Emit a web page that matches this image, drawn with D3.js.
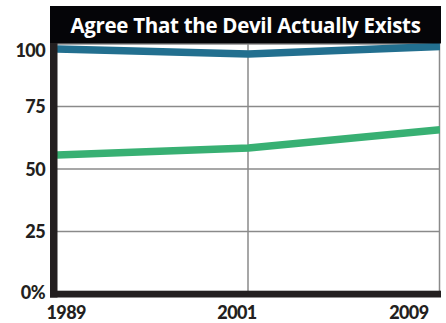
<!DOCTYPE html>
<html>
<head>
<meta charset="utf-8">
<script src="https://cdn.jsdelivr.net/npm/d3@7"></script>
<style>
  html, body { margin: 0; padding: 0; background: #fff; }
  svg { display: block; }
</style>
</head>
<body>
<svg id="chart" width="446" height="323"></svg>
<script>
// Share of respondents who agree that the devil actually exists
const years = ["1989", "2001", "2009"];
const seriesBlue = [98, 96, 99];
const seriesGreen = [55.6, 58.4, 65.7];
const yTicks = [0, 25, 50, 75, 100];
const titleText = "Agree That the Devil Actually Exists";

const svg = d3.select("#chart");
const plotLeft = 57, plotRight = 440, plotTop = 44, plotBottom = 294;

const x = d3.scalePoint().domain(years).range([plotLeft, plotRight]);
const y = d3.scaleLinear().domain([0, 100]).range([plotBottom, plotTop]);

svg.append("defs").append("clipPath").attr("id", "plot")
  .append("rect").attr("x", plotLeft).attr("y", 0)
  .attr("width", plotRight - plotLeft).attr("height", plotBottom);

// grid lines
const grid = svg.append("g");
grid.selectAll("line.h").data(yTicks.filter(d => d > 0)).join("line")
  .attr("x1", plotLeft).attr("x2", plotRight)
  .attr("y1", d => y(d)).attr("y2", d => y(d))
  .attr("stroke", "#8a8a8a").attr("stroke-width", 1.5);
grid.selectAll("line.v").data(years.slice(1)).join("line")
  .attr("x1", d => x(d) - 0.5).attr("x2", d => x(d) - 0.5)
  .attr("y1", plotTop).attr("y2", plotBottom)
  .attr("stroke", "#8a8a8a").attr("stroke-width", 1.5);

// series lines
const line = d3.line().x((d, i) => x(years[i])).y(d => y(d));
const lines = svg.append("g").attr("clip-path", "url(#plot)");
lines.append("path").datum(seriesGreen).attr("d", line)
  .attr("fill", "none").attr("stroke", "#38b073").attr("stroke-width", 7.5);
lines.append("path").datum(seriesBlue).attr("d", line)
  .attr("fill", "none").attr("stroke", "#226f8f").attr("stroke-width", 7.5);

// title bar
svg.append("rect").attr("x", 50).attr("y", 6).attr("width", 391).attr("height", 37.5).attr("fill", "#050508");
svg.append("text").attr("x", 245.5).attr("y", 33)
  .attr("text-anchor", "middle")
  .attr("fill", "#fff")
  .style("font-family", "'Open Sans', sans-serif")
  .style("font-weight", 700)
  .style("font-size", "20.5px")
  .style("letter-spacing", "-0.3px")
  .text(titleText);

// axes bars
svg.append("rect").attr("x", 50).attr("y", 43).attr("width", 7.5).attr("height", 254.5).attr("fill", "#231f20");
svg.append("rect").attr("x", 50).attr("y", 290.7).attr("width", 391).attr("height", 6.8).attr("fill", "#231f20");

// y tick labels
const yAxis = d3.axisLeft(y).tickValues(yTicks).tickSize(0)
  .tickFormat(d => d === 0 ? "0%" : String(d));
const ya = svg.append("g").attr("transform", `translate(${plotLeft - 5},0)`).call(yAxis);
ya.select(".domain").remove();
ya.selectAll("text")
  .attr("x", -7)
  .attr("dy", d => d === 100 ? "0.68em" : d === 0 ? "0.25em" : "0.36em")
  .attr("fill", "#231f20")
  .style("font-family", "Lato, sans-serif")
  .style("font-weight", 900)
  .style("font-size", "18px")
  .style("letter-spacing", "-0.6px");

// x tick labels
const xAxis = d3.axisBottom(x).tickSize(0);
const xa = svg.append("g").attr("transform", `translate(0,${plotBottom})`).call(xAxis);
xa.select(".domain").remove();
xa.selectAll("text")
  .attr("y", 24.5)
  .attr("dy", 0)
  .attr("dx", d => d === years[0] ? -11 : -12)
  .attr("text-anchor", (d, i) => i === 0 ? "start" : i === years.length - 1 ? "end" : "middle")
  .attr("fill", "#231f20")
  .style("font-family", "Lato, sans-serif")
  .style("font-weight", 900)
  .style("font-size", "18px")
  .style("letter-spacing", "-0.6px");
</script>
</body>
</html>
